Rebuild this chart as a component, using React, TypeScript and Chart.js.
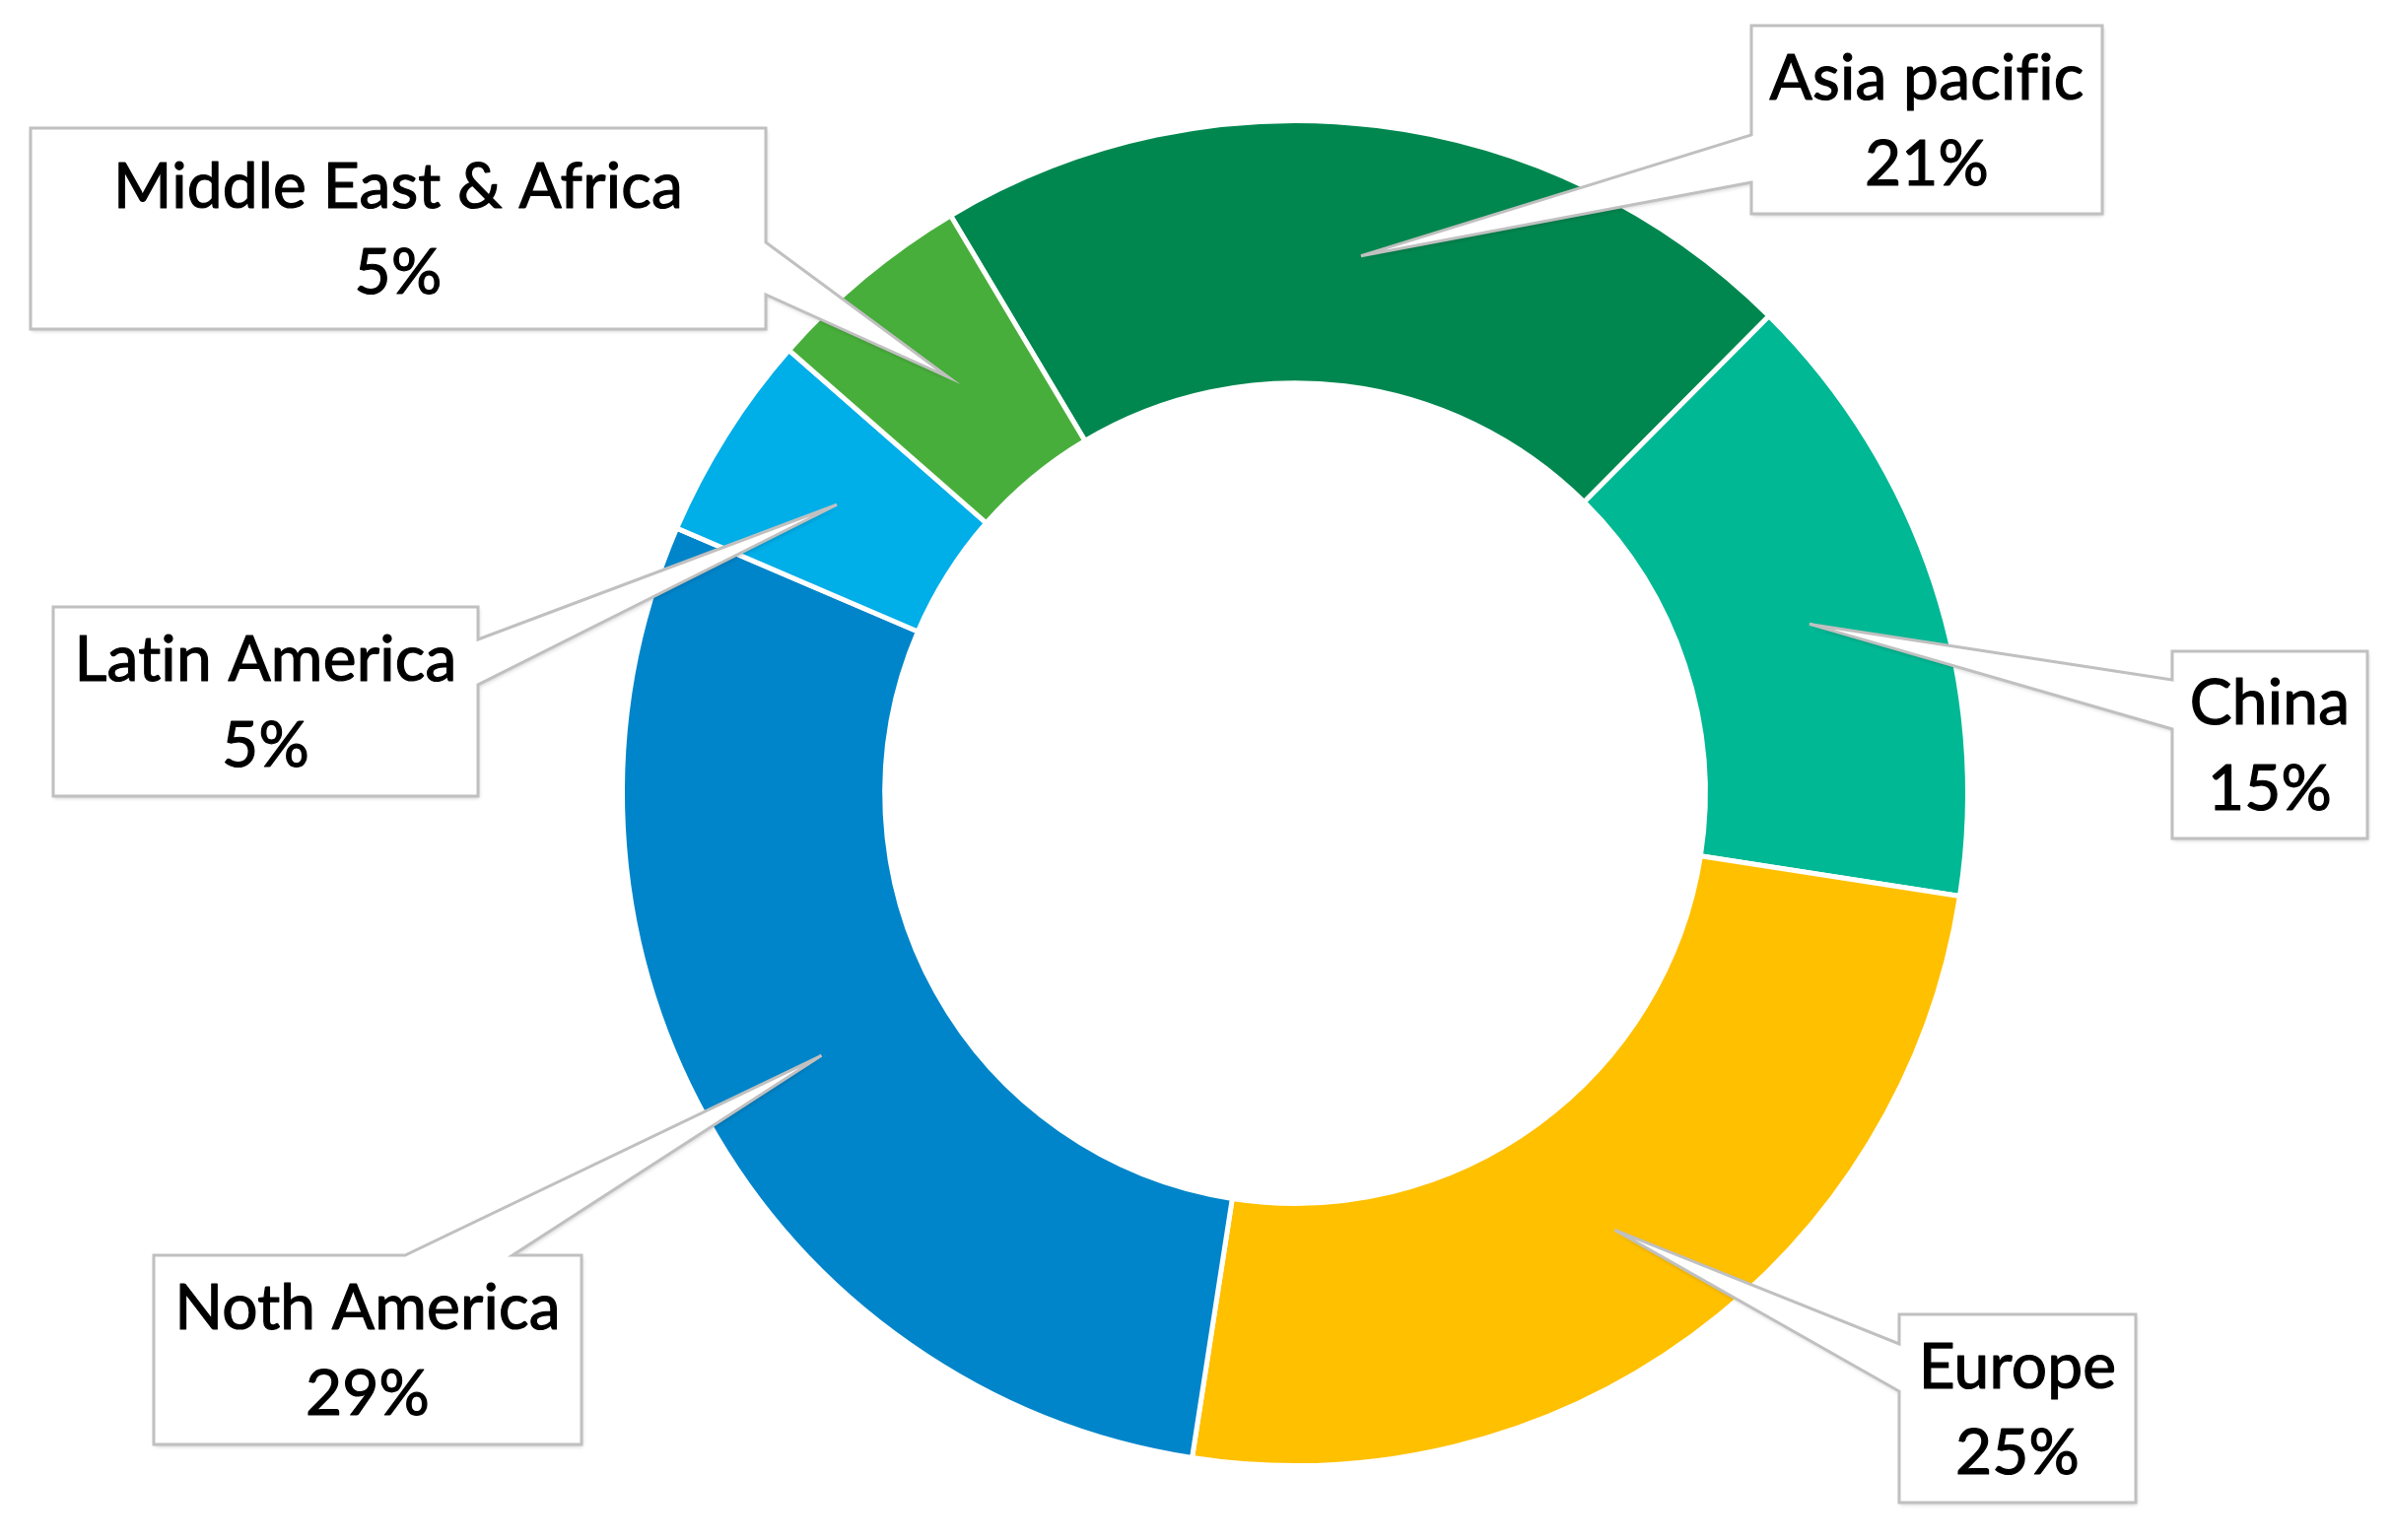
import React, { useEffect, useRef } from "react";
import { Chart, registerables } from "chart.js";

Chart.register(...registerables);

// ---- Data ----
const regions = ["Asia pacific", "China", "Europe", "Noth America", "Latin America", "Middle East & Africa"];
const shares = [21, 15, 25, 29, 5, 5];
const sliceColors = ["#00874F", "#00B894", "#FFC000", "#0085CA", "#00AEE8", "#48AE3B"];

// ---- Callout layout (canvas pixels) ----
type Side = "left" | "right" | "top" | "bottom";
const calloutBoxes: { x0: number; y0: number; x1: number; y1: number; side: Side; b: [number, number] }[] = [
  { x0: 1777, y0: 26, x1: 2133, y1: 217, side: "left", b: [137, 185] },
  { x0: 2204, y0: 661, x1: 2402, y1: 851, side: "left", b: [690, 740] },
  { x0: 1927, y0: 1334, x1: 2167, y1: 1525, side: "left", b: [1364, 1412] },
  { x0: 156, y0: 1274, x1: 590, y1: 1466, side: "top", b: [411, 520] },
  { x0: 54, y0: 616, x1: 485, y1: 808, side: "right", b: [649, 695] },
  { x0: 31, y0: 130, x1: 777, y1: 334, side: "right", b: [246, 299] },
];

const calloutPlugin = {
  id: "callouts",
  afterDraw(chart: any) {
    const ctx: CanvasRenderingContext2D = chart.ctx;
    const meta = chart.getDatasetMeta(0);
    meta.data.forEach((arc: any, i: number) => {
      const box = calloutBoxes[i];
      if (!box) return;
      const tip = arc.getCenterPoint();
      const { x0, y0, x1, y1, side, b } = box;
      const pts: [number, number][] = [];
      pts.push([x0, y0]);
      if (side === "top") {
        pts.push([b[0], y0], [tip.x, tip.y], [b[1], y0]);
      }
      pts.push([x1, y0]);
      if (side === "right") {
        pts.push([x1, b[0]], [tip.x, tip.y], [x1, b[1]]);
      }
      pts.push([x1, y1]);
      if (side === "bottom") {
        pts.push([b[1], y1], [tip.x, tip.y], [b[0], y1]);
      }
      pts.push([x0, y1]);
      if (side === "left") {
        pts.push([x0, b[1]], [tip.x, tip.y], [x0, b[0]]);
      }
      ctx.save();
      ctx.beginPath();
      pts.forEach(([px, py], k) => (k === 0 ? ctx.moveTo(px, py) : ctx.lineTo(px, py)));
      ctx.closePath();
      ctx.shadowColor = "rgba(0,0,0,0.2)";
      ctx.shadowBlur = 4;
      ctx.shadowOffsetX = 1;
      ctx.shadowOffsetY = 2;
      ctx.fillStyle = "#ffffff";
      ctx.fill();
      ctx.shadowColor = "transparent";
      ctx.lineWidth = 3;
      ctx.lineJoin = "miter";
      ctx.strokeStyle = "#c0c0c0";
      ctx.stroke();

      const cx = (x0 + x1) / 2;
      const cy = (y0 + y1) / 2;
      ctx.fillStyle = "#000000";
      ctx.strokeStyle = "#000000";
      ctx.lineWidth = 1.2;
      ctx.lineJoin = "round";
      ctx.textAlign = "center";
      ctx.textBaseline = "alphabetic";
      ctx.font = "64px Lato";
      try {
        (ctx as any).letterSpacing = "0.2px";
      } catch (e) {}
      const line1 = String(chart.data.labels[i]);
      const line2 = `${chart.data.datasets[0].data[i]}%`;
      ctx.fillText(line1, cx, cy - 21);
      ctx.strokeText(line1, cx, cy - 21);
      ctx.fillText(line2, cx, cy + 66);
      ctx.strokeText(line2, cx, cy + 66);
      ctx.restore();
    });
  },
};

export default function App() {
  const canvasRef = useRef<HTMLCanvasElement | null>(null);

  useEffect(() => {
    if (!canvasRef.current) return;
    const chart = new Chart(canvasRef.current, {
      type: "doughnut",
      data: {
        labels: regions,
        datasets: [
          {
            data: shares,
            backgroundColor: sliceColors,
            borderColor: "#ffffff",
            borderWidth: 5,
          },
        ],
      },
      options: {
        responsive: false,
        animation: false,
        rotation: -30.8,
        cutout: "61%",
        layout: { padding: { left: 629, right: 428, top: 120, bottom: 73 } },
        plugins: {
          legend: { display: false },
          tooltip: { enabled: false },
        },
      },
      plugins: [calloutPlugin],
    });
    return () => chart.destroy();
  }, []);

  return (
    <div style={{ position: "absolute", left: 0, top: 0, width: 2427, height: 1563, background: "#fff" }}>
      <canvas ref={canvasRef} width={2427} height={1563} style={{ display: "block" }} />
    </div>
  );
}
